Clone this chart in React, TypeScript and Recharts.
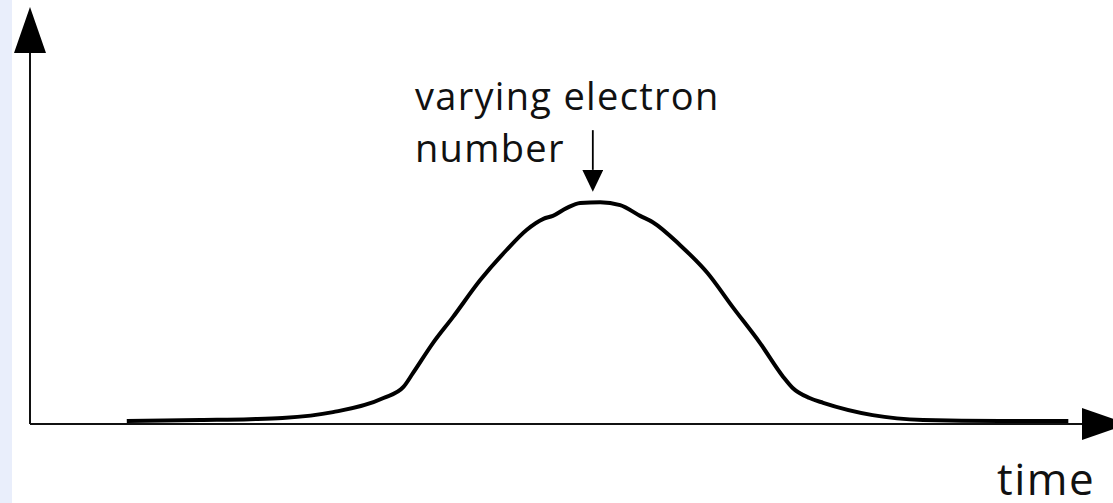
import { Line, LineChart, ReferenceLine, XAxis, YAxis } from 'recharts';

// Electron number over time: a single pulse that rises from the baseline,
// peaks and falls back. Axes carry arrowheads and no ticks.

const TIME = [
  9.2, 16.2, 20.9, 24.0, 28.8, 33.6, 35.5, 36.4, 38.3, 40.2, 42.8, 45.3, 47.2, 48.8, 49.7, 51.0, 52.3,
  54.2, 56.1, 58.0, 59.2, 61.8, 64.4, 66.8, 69.4, 71.6, 72.5, 74.1, 75.4, 80.1, 84.9, 92.2, 98.7,
];
const ELECTRONS = [
  0.8, 1.1, 1.3, 1.6, 3.2, 7.0, 10.0, 13.7, 21.8, 28.8, 38.8, 46.9, 52.3, 55.3, 56.1, 58.2, 59.6,
  59.8, 59.0, 56.1, 54.4, 48.2, 40.7, 31.5, 21.8, 12.7, 9.7, 7.0, 5.7, 2.4, 1.1, 0.8, 0.8,
];

// where the annotation arrow points (the top of the pulse)
const PEAK_TIME = 53.5;
const ARROW_FROM = 79.2;
const ARROW_TO = 68.5;

const LABEL_LINES = ['varying electron', 'number'];
const X_LABEL = 'time';

const data = TIME.map((t, i) => ({ t, n: ELECTRONS[i] }));

const FONT = '"Open Sans", "Noto Sans", sans-serif';

export default function App() {
  return (
    <div
      style={{
        position: 'fixed',
        left: 0,
        top: 0,
        width: 1113,
        height: 503,
        background: '#ffffff',
        overflow: 'hidden',
      }}
    >
      <div style={{ position: 'absolute', left: 0, top: 0, width: 12, height: 503, background: '#e9eefb' }} />
      <LineChart width={1113} height={503} data={data} margin={{ top: 53, right: 31, bottom: 78, left: 29 }}>
        <defs>
          <marker
            id="axis-head"
            viewBox="0 0 46 32"
            refX={0}
            refY={16}
            markerWidth={46}
            markerHeight={32}
            markerUnits="userSpaceOnUse"
            orient="auto-start-reverse"
          >
            <path d="M0,0 L46,16 L0,32 Z" fill="#000" />
          </marker>
          <marker
            id="pointer-head"
            viewBox="0 0 22 21"
            refX={0}
            refY={10.5}
            markerWidth={22}
            markerHeight={21}
            markerUnits="userSpaceOnUse"
            orient="auto"
          >
            <path d="M0,0 L22,10.5 L0,21 Z" fill="#000" />
          </marker>
        </defs>
        <XAxis
          dataKey="t"
          type="number"
          domain={[0, 100]}
          height={1}
          tick={false}
          tickLine={false}
          axisLine={{ stroke: '#111', strokeWidth: 2, markerEnd: 'url(#axis-head)' }}
        />
        <YAxis
          type="number"
          domain={[0, 100]}
          width={1}
          tick={false}
          tickLine={false}
          axisLine={{ stroke: '#111', strokeWidth: 2, markerStart: 'url(#axis-head)' }}
        />
        <ReferenceLine
          segment={[
            { x: PEAK_TIME, y: ARROW_FROM },
            { x: PEAK_TIME, y: ARROW_TO },
          ]}
          stroke="#000"
          strokeWidth={1.8}
          markerEnd="url(#pointer-head)"
        />
        <Line
          dataKey="n"
          type="monotone"
          stroke="#000"
          strokeWidth={4}
          dot={false}
          activeDot={false}
          isAnimationActive={false}
        />
      </LineChart>
      {LABEL_LINES.map((line, i) => (
        <div
          key={line}
          style={{
            position: 'absolute',
            left: 415,
            top: 76 + i * 52,
            fontFamily: FONT,
            fontSize: 38,
            lineHeight: '38px',
            letterSpacing: 1.3,
            color: '#111',
            whiteSpace: 'nowrap',
          }}
        >
          {line}
        </div>
      ))}
      <div
        style={{
          position: 'absolute',
          left: 997,
          top: 456,
          fontFamily: FONT,
          fontSize: 44,
          lineHeight: '44px',
          letterSpacing: 1.5,
          color: '#111',
          whiteSpace: 'nowrap',
        }}
      >
        {X_LABEL}
      </div>
    </div>
  );
}
